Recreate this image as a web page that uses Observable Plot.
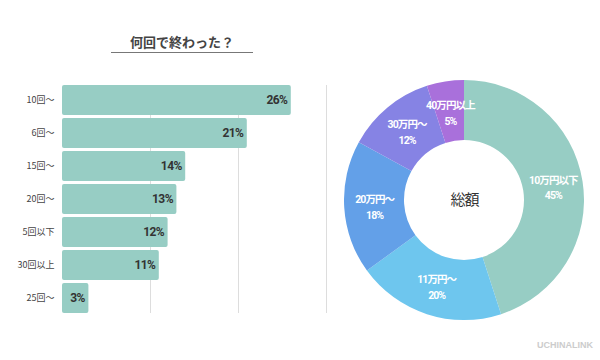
<!DOCTYPE html>
<html><head><meta charset="utf-8">
<script src="https://cdn.jsdelivr.net/npm/d3@7"></script>
<script src="https://cdn.jsdelivr.net/npm/@observablehq/plot@0.6"></script>
<style>
body{margin:0;background:#fff;font-family:"Noto Sans CJK JP","Noto Sans",sans-serif;}
#wrap{position:relative;width:600px;height:360px;overflow:hidden;background:#fff;}
#title{position:absolute;left:111px;width:142px;top:33px;text-align:center;font-size:13px;font-weight:bold;color:#444;line-height:18px;height:19px;border-bottom:1.5px solid #777;}
#bars{position:absolute;left:0;top:70px;}
#donut{position:absolute;left:344px;top:80px;}
#mark{position:absolute;right:7px;top:340px;font-family:"Liberation Sans",Arial,sans-serif;font-weight:bold;font-size:9px;color:#ccc;}
#bars g[aria-label="text"] text{letter-spacing:-0.6px;}
#donut g[aria-label="text"] text{letter-spacing:-0.9px;}
</style></head>
<body>
<div id="wrap">
  <div id="title">何回で終わった？</div>
  <div id="bars"></div>
  <div id="donut"></div>
  <div id="mark">UCHINALINK</div>
</div>
<script>
const counts = ["10回〜","6回〜","15回〜","20回〜","5回以下","30回以上","25回〜"];
const countShares = [26,21,14,13,12,11,3];
const gridTicks = [10,20,30];

const amountLabels = ["10万円以下","11万円〜","20万円〜","30万円〜","40万円以上"];
const amountShares = [45,20,18,12,5];
const amountColors = ["#97CDC4","#6EC6EE","#63A0E8","#8683E4","#A970DB"];
const centerLabel = "総額";

const barRows = counts.map((k,i)=>({k, v: countShares[i]}));
const cond = "Roboto,'Noto Sans CJK JP',sans-serif";

const bars = Plot.plot({
  width: 330, height: 260,
  marginLeft: 62, marginRight: 4, marginTop: 15, marginBottom: 17,
  x: {domain: [0,30], axis: null},
  y: {domain: counts, paddingInner: 0.1, paddingOuter: 0, axis: null},
  style: {fontFamily: "'Noto Sans CJK JP',sans-serif", fontSize: "9px", color: "#444", background: "transparent"},
  marks: [
    Plot.ruleX(gridTicks, {stroke: "#ddd", strokeWidth: 1}),
    Plot.barX(barRows, {x: "v", y: "k", fill: "#97CDC4", rx: 2}),
    Plot.text(barRows, {x: "v", y: "k", text: d => d.v + "%", textAnchor: "end", dx: -4,
      fill: "#333", fontWeight: "bold", fontSize: 12, fontFamily: cond}),
    Plot.axisY({tickSize: 0, tickPadding: 8, fontSize: 9, label: null, color: "#444"})
  ]
});
document.getElementById("bars").append(bars);

const amountRows = amountLabels.map((k,i)=>({k, v: amountShares[i]}));
const arcs = d3.pie().sort(null).value(d=>d.v)(amountRows);
const R0 = 0.5, R1 = 1;
const labelRows = arcs.map(a => {
  const m = (a.startAngle + a.endAngle)/2, r = (R0+R1)/2;
  return {x: r*Math.sin(m), y: r*Math.cos(m), t: a.data.k + "\n" + a.data.v + "%"};
});

const donutMark = (index, scales, values, dims) => {
  const {x, y} = scales;
  const cx = x(0), cy = y(0), unit = x(1) - x(0);
  const g = d3.create("svg:g").attr("transform", `translate(${cx},${cy})`);
  const arc = d3.arc().innerRadius(R0*unit).outerRadius(R1*unit);
  g.selectAll("path").data(arcs).join("path")
    .attr("d", arc)
    .attr("fill", (d,i) => amountColors[i]);
  return g.node();
};

const donut = Plot.plot({
  width: 240, height: 240, margin: 0,
  x: {domain: [-1,1], axis: null},
  y: {domain: [-1,1], axis: null},
  style: {background: "transparent"},
  marks: [
    donutMark,
    Plot.text(labelRows, {x: "x", y: "y", text: "t", fill: "#fff", fontWeight: "bold",
      fontSize: 10.5, lineHeight: 1.5, fontFamily: cond}),
    Plot.text([centerLabel], {x: () => 0, y: () => 0, text: d => d, fill: "#333",
      fontSize: 15, fontFamily: "'Noto Sans CJK JP',sans-serif"})
  ]
});
document.getElementById("donut").append(donut);
</script>
</body></html>
